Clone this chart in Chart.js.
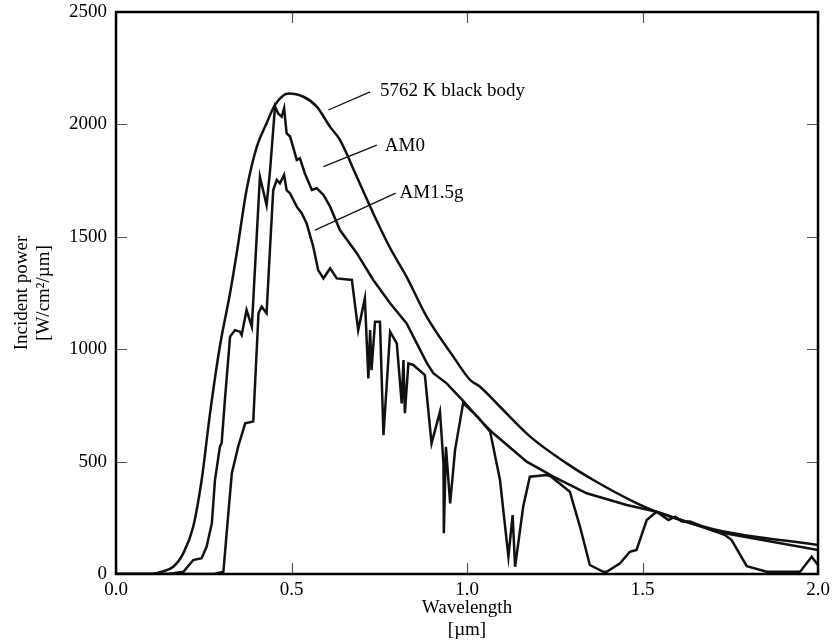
<!DOCTYPE html>
<html>
<head>
<meta charset="utf-8">
<script src="https://cdn.jsdelivr.net/npm/chart.js@4.4.1/dist/chart.umd.min.js"></script>
<style>
  html, body { margin: 0; padding: 0; background: #fff; }
  #wrap { width: 834px; height: 644px; }
</style>
</head>
<body>
<div id="wrap"><canvas id="myChart" width="834" height="644"></canvas></div>
<script>
// Spectra (wavelength in um, power in W/cm2/um)

const bbWave = [0, 0.10, 0.13, 0.163, 0.192, 0.22, 0.244, 0.268, 0.296, 0.325, 0.344, 0.372, 0.401, 0.429, 0.453, 0.491,
    0.534, 0.572, 0.61, 0.638, 0.686, 0.733, 0.781, 0.828, 0.885, 0.961, 1.009, 1.037, 1.094, 1.18, 1.284, 1.36,
    1.474, 1.54, 1.711, 2.0];
const bbPower = [0, 0, 10, 32, 93, 210, 418, 716, 1013, 1250, 1428, 1708, 1900, 2005, 2087, 2138,
    2123, 2079, 1989, 1931, 1767, 1604, 1450, 1322, 1145, 967, 863, 833, 744, 611, 492, 418,
    322, 277, 196, 129];

const am0Wave = [0, 0.15, 0.192, 0.22, 0.244, 0.258, 0.273, 0.282, 0.296, 0.301, 0.311, 0.325, 0.339, 0.353, 0.358,
    0.372, 0.387, 0.41, 0.429, 0.439, 0.453, 0.462, 0.472, 0.479, 0.486, 0.496, 0.515, 0.524, 0.538, 0.558,
    0.572, 0.591, 0.61, 0.638, 0.686, 0.733, 0.781, 0.828, 0.885, 0.904, 0.942, 0.989, 1.037, 1.075, 1.17,
    1.246, 1.341, 1.455, 1.54, 1.711, 2.0];
const am0Power = [0, 0, 10, 62, 70, 121, 225, 418, 566, 583, 789, 1056, 1085, 1078, 1063,
    1174, 1100, 1767, 1641, 1797, 2079, 2049, 2034, 2072, 1961, 1946, 1842, 1849, 1782, 1708,
    1716, 1686, 1634, 1530, 1427, 1308, 1204, 1115, 940, 893, 848, 770, 685, 626, 500,
    433, 359, 307, 277, 188, 107];

const am15Wave = [0, 0.28, 0.306, 0.32, 0.33, 0.348, 0.368, 0.391, 0.406, 0.415, 0.429, 0.439, 0.448, 0.458, 0.467,
    0.479, 0.486, 0.496, 0.515, 0.529, 0.543, 0.562, 0.576, 0.591, 0.61, 0.629, 0.672, 0.69, 0.709, 0.719,
    0.724, 0.728, 0.738, 0.752, 0.762, 0.781, 0.8, 0.814, 0.819, 0.823, 0.833, 0.847, 0.88, 0.899, 0.923,
    0.933, 0.934, 0.94, 0.952, 0.966, 0.989, 1.03, 1.066, 1.094, 1.118, 1.13, 1.137, 1.16, 1.179, 1.227,
    1.24, 1.293, 1.322, 1.35, 1.388, 1.398, 1.436, 1.464, 1.483, 1.512, 1.54, 1.574, 1.593, 1.612, 1.635,
    1.735, 1.754, 1.797, 1.854, 1.949, 1.982, 2.0];
const am15Power = [0, 0, 10, 270, 448, 566, 670, 678, 1160, 1189, 1160, 1456, 1708, 1753, 1738,
    1775, 1708, 1693, 1634, 1605, 1560, 1456, 1352, 1315, 1360, 1315, 1308, 1085, 1226, 870,
    1085, 907, 1122, 1122, 618, 1078, 1026, 759, 952, 715, 937, 930, 885, 581, 722,
    492, 181, 566, 314, 552, 760, 700, 633, 418, 77, 262, 32, 299, 433, 440,
    433, 366, 210, 40, 10, 10, 48, 99, 107, 240, 277, 240, 255, 233, 233,
    173, 151, 35, 10, 10, 77, 40];

const xTicks = [0, 0.5, 1.0, 1.5, 2.0];
const yTicks = [0, 500, 1000, 1500, 2000, 2500];

const curveNames = ['5762 K black body', 'AM0', 'AM1.5g'];

// where each name sits and where its pointer line runs (data units)
const notes = [
    { tx: 0.752, ty: 2150, x1: 0.605, y1: 2064, x2: 0.724, y2: 2145 },
    { tx: 0.766, ty: 1905, x1: 0.591, y1: 1812, x2: 0.743, y2: 1908 },
    { tx: 0.808, ty: 1694, x1: 0.567, y1: 1530, x2: 0.797, y2: 1694 }
];

function pts(xs, ys) {
    return xs.map((v, i) => ({ x: v, y: ys[i] }));
}

const serif = "'Liberation Serif', 'DejaVu Serif', serif";

const frameTicks = {
    id: 'frameTicks',
    afterDatasetsDraw(chart) {
        const { ctx, chartArea: a, scales: { x, y } } = chart;
        const len = 11;
        ctx.save();
        ctx.strokeStyle = '#555';
        ctx.lineWidth = 1.2;
        ctx.beginPath();
        xTicks.forEach(v => {
            const px = Math.round(x.getPixelForValue(v)) + 0.5;
            ctx.moveTo(px, a.bottom); ctx.lineTo(px, a.bottom - len);
            ctx.moveTo(px, a.top); ctx.lineTo(px, a.top + len);
        });
        yTicks.forEach(v => {
            const py = Math.round(y.getPixelForValue(v)) + 0.5;
            ctx.moveTo(a.left, py); ctx.lineTo(a.left + len, py);
            ctx.moveTo(a.right, py); ctx.lineTo(a.right - len, py);
        });
        ctx.stroke();

        ctx.strokeStyle = '#000';
        ctx.lineWidth = 2.5;
        ctx.strokeRect(a.left, a.top, a.right - a.left, a.bottom - a.top);

        // curve names with pointer lines
        ctx.lineWidth = 1.3;
        ctx.strokeStyle = '#111';
        ctx.fillStyle = '#000';
        ctx.font = '19px ' + serif;
        ctx.textAlign = 'left';
        ctx.textBaseline = 'middle';
        notes.forEach((n, i) => {
            ctx.beginPath();
            ctx.moveTo(x.getPixelForValue(n.x1), y.getPixelForValue(n.y1));
            ctx.lineTo(x.getPixelForValue(n.x2), y.getPixelForValue(n.y2));
            ctx.stroke();
            ctx.fillText(curveNames[i], x.getPixelForValue(n.tx), y.getPixelForValue(n.ty));
        });
        ctx.restore();
    }
};

const lineStyle = {
    borderColor: '#111',
    borderWidth: 2.5,
    pointRadius: 0,
    fill: false
};

const data = {
    datasets: [
        Object.assign({ label: curveNames[0], data: pts(bbWave, bbPower), cubicInterpolationMode: 'monotone' }, lineStyle),
        Object.assign({ label: curveNames[1], data: pts(am0Wave, am0Power), tension: 0 }, lineStyle),
        Object.assign({ label: curveNames[2], data: pts(am15Wave, am15Power), tension: 0 }, lineStyle)
    ]
};

const config = {
    type: 'line',
    data,
    options: {
        responsive: false,
        devicePixelRatio: 1,
        animation: false,
        layout: { padding: { top: 12, right: 16, left: 0, bottom: 0 } },
        plugins: { legend: { display: false }, tooltip: { enabled: false } },
        scales: {
            x: {
                type: 'linear',
                min: 0,
                max: 2,
                afterFit: s => { s.height = 70; s.paddingLeft = 0; s.paddingRight = 0; },
                afterBuildTicks: s => { s.ticks = xTicks.map(v => ({ value: v })); },
                grid: { display: false, drawTicks: false },
                border: { display: false },
                ticks: {
                    padding: 5,
                    color: '#000',
                    font: { family: serif, size: 19 },
                    maxRotation: 0,
                    callback: v => v.toFixed(1)
                },
                title: {
                    display: true,
                    text: ['Wavelength', '[\u00b5m]'],
                    color: '#000',
                    font: { family: serif, size: 19, lineHeight: 1.16 },
                    padding: { top: 0, bottom: 3 }
                }
            },
            y: {
                min: 0,
                max: 2500,
                afterFit: s => { s.width = 116; s.paddingTop = 0; s.paddingBottom = 0; },
                afterBuildTicks: s => { s.ticks = yTicks.map(v => ({ value: v })); },
                grid: { display: false, drawTicks: false },
                border: { display: false },
                ticks: {
                    padding: 9,
                    color: '#000',
                    font: { family: serif, size: 19 },
                    callback: v => String(v)
                },
                title: {
                    display: true,
                    text: ['Incident power', '[W/cm\u00b2/\u00b5m]'],
                    color: '#000',
                    font: { family: serif, size: 19, lineHeight: 1.16 },
                    padding: { top: 11, bottom: 0 }
                }
            }
        }
    },
    plugins: [frameTicks]
};

var myChart = new Chart(document.getElementById('myChart'), config);
</script>
</body>
</html>
